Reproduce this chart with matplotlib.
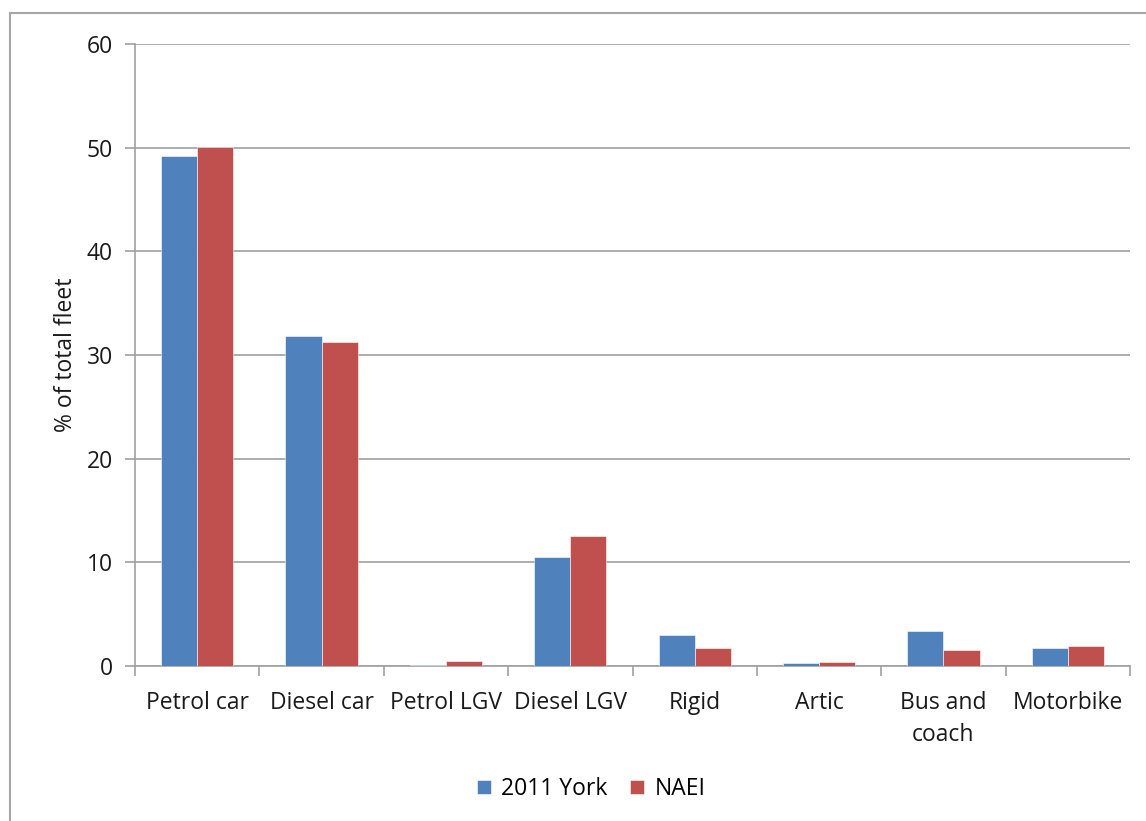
import matplotlib
matplotlib.use("Agg")
import matplotlib.pyplot as plt
from matplotlib.patches import Rectangle
import numpy as np

categories = ["Petrol car", "Diesel car", "Petrol LGV", "Diesel LGV",
              "Rigid", "Artic", "Bus and\ncoach", "Motorbike"]
york_2011 = [49.2, 31.8, 0.1, 10.5, 3.0, 0.3, 3.4, 1.7]
naei = [50.1, 31.3, 0.5, 12.5, 1.7, 0.4, 1.5, 1.9]
y_ticks = [0, 10, 20, 30, 40, 50, 60]

plt.rcParams['font.family'] = ['Open Sans', 'DejaVu Sans']
W, H = 1146, 821
fig = plt.figure(figsize=(W / 100, H / 100), dpi=100)

# outer chart frame
fig.patches.append(Rectangle((10 / W, -0.05), 1.1, 1 - 13 / H + 0.05,
                             transform=fig.transFigure, fill=False,
                             edgecolor="#A6A6A6", linewidth=1.5))

left, right, top, bottom = 135, 1130, 44, 666
ax = fig.add_axes([left / W, 1 - bottom / H, (right - left) / W, (bottom - top) / H])

grid_c = "#A0A0A0"
fs = 16.5
x = np.arange(len(categories))
w = 0.29
ax.bar(x - w / 2, york_2011, w, color="#4F81BD", edgecolor="#FFFFFF",
       linewidth=0.4, label="2011 York", zorder=3)
ax.bar(x + w / 2, naei, w, color="#C0504D", edgecolor="#FFFFFF",
       linewidth=0.4, label="NAEI", zorder=3)

ax.set_xlim(-0.5, len(categories) - 0.5)
ax.set_ylim(0, 60)
ax.set_yticks(y_ticks)
ax.yaxis.grid(True, color=grid_c, linewidth=1.2, zorder=0)
ax.set_axisbelow(True)

ax.set_xticks(x)
ax.set_xticklabels(categories, fontsize=fs, color="#1A1A1A", linespacing=1.45,
                   va="top")
ax.tick_params(axis="x", length=0, pad=18)
ax.set_xticks(np.arange(-0.5, len(categories)), minor=True)
ax.tick_params(axis="x", which="minor", length=7, color=grid_c, width=1.2)
ax.tick_params(axis="y", length=7, color=grid_c, width=1.2, labelsize=fs,
               labelcolor="#1A1A1A", pad=9)

for s in ("top", "right"):
    ax.spines[s].set_visible(False)
for s in ("left", "bottom"):
    ax.spines[s].set_color(grid_c)
    ax.spines[s].set_linewidth(1.2)

ax.set_ylabel("% of total fleet", fontsize=fs, color="#1A1A1A", labelpad=6)

fig.legend(loc="center", bbox_to_anchor=(591 / W, 1 - 789 / H), ncol=2,
           frameon=False, fontsize=fs, handlelength=0.6, handleheight=0.6,
           handletextpad=0.45, columnspacing=1.0)

fig.savefig("out.png", dpi=100)
